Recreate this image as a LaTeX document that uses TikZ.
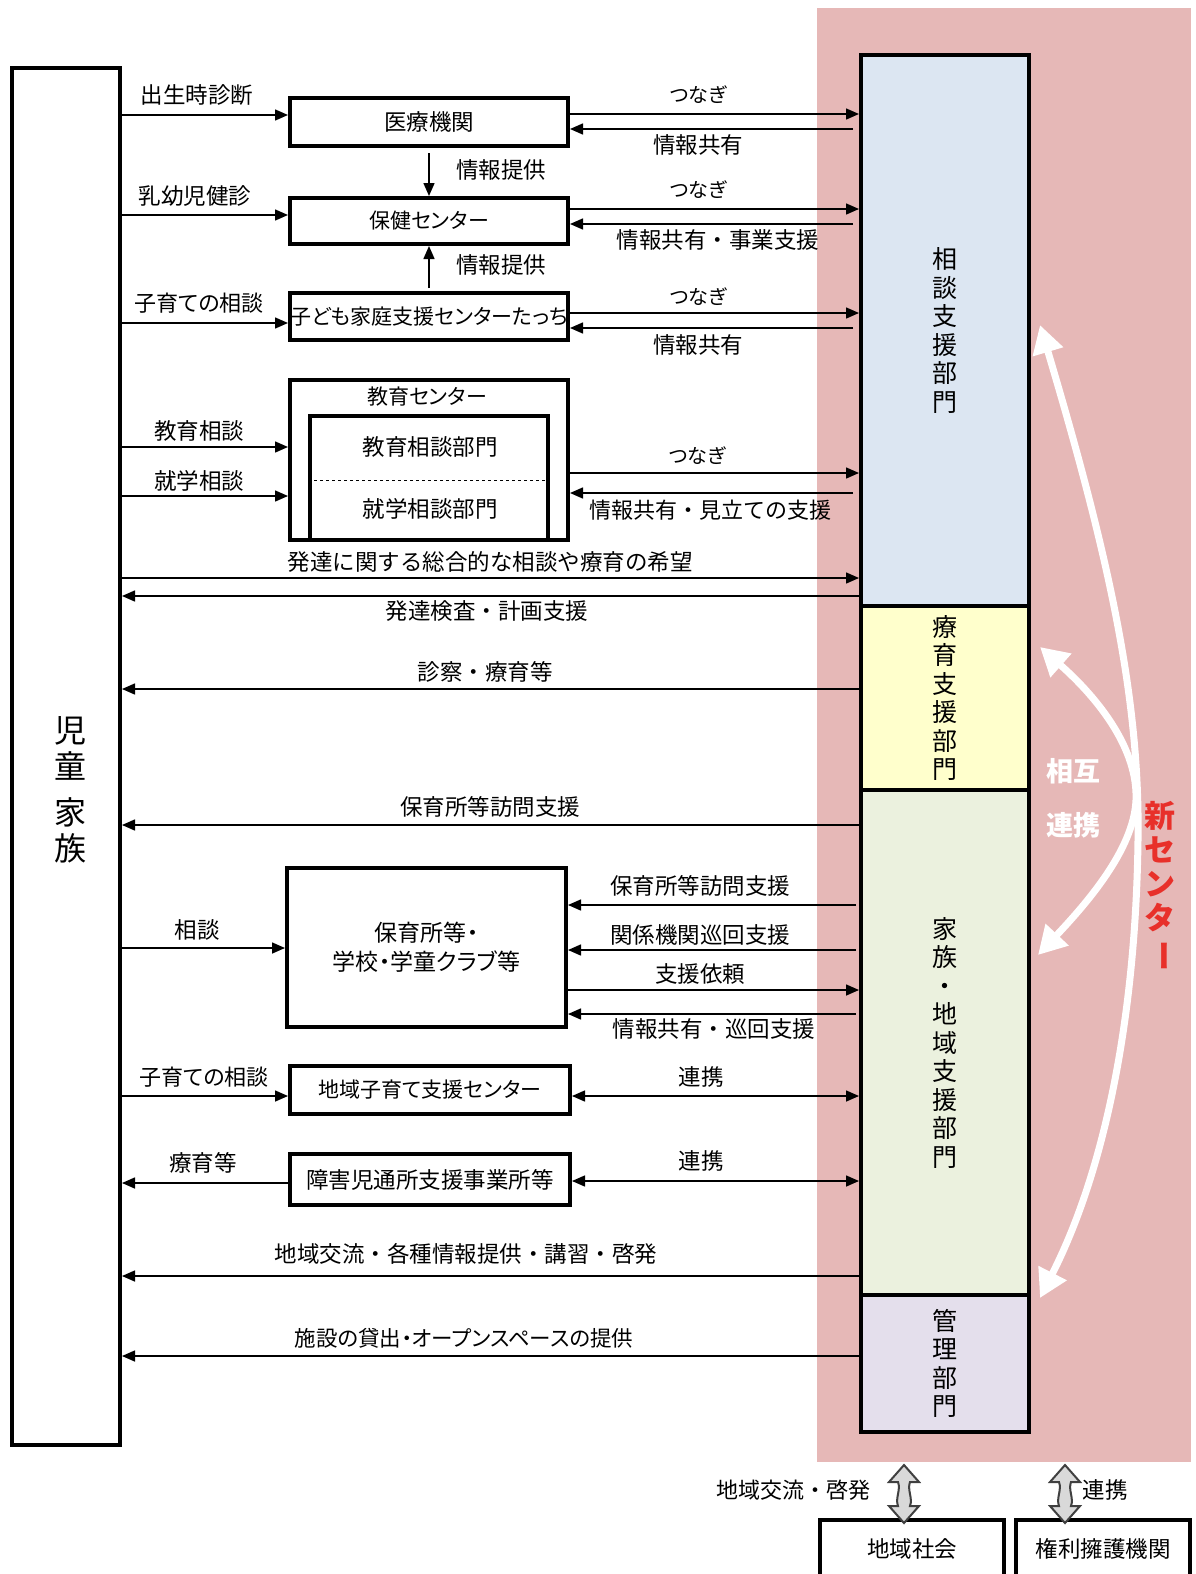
\documentclass[tikz,border=0pt]{standalone}
\usepackage{fontspec}
\setmainfont{Noto Sans CJK JP}
\newfontfamily\pf{Noto Sans CJK JP}[RawFeature=+palt]
\usetikzlibrary{arrows.meta}
\definecolor{pinkbg}{HTML}{E6B8B7}
\definecolor{secblue}{HTML}{DCE6F2}
\definecolor{secyellow}{HTML}{FFFFCC}
\definecolor{secgreen}{HTML}{EBF1DE}
\definecolor{seclav}{HTML}{E4DFEC}
\definecolor{newred}{HTML}{E8302A}
\definecolor{dblgray}{HTML}{D9D9D9}
\begin{document}
\begin{tikzpicture}[x=1pt,y=-1pt,
  font=\fontsize{22.5}{26}\selectfont,
  arr/.style={line width=1.5pt,-{Triangle[length=13pt,width=11pt]}},
  darr/.style={line width=1.5pt,{Triangle[length=13pt,width=11pt]}-{Triangle[length=13pt,width=11pt]}},
  box/.style={draw,line width=4pt,inner sep=0pt,fill=white},
  sect/.style={draw,line width=4pt,inner sep=0pt,minimum width=168pt,align=center,font=\fontsize{25}{28.5}\selectfont},
  lbl/.style={inner sep=0pt},
  kana/.style={font=\pf\fontsize{#1}{#1}\selectfont},
  warr/.style={white,line width=7pt,{Triangle[length=28pt,width=30pt]}-{Triangle[length=28pt,width=30pt]}},
  dblarrow/.style={fill=dblgray,draw=black!75,line width=2pt,line join=miter}
]
\useasboundingbox (0,0) rectangle (1196,1574);
% pink background of the new centre
\fill[pinkbg] (817,8) rectangle (1191,1462);

% right column sections
\node[sect,fill=secblue,minimum height=551pt] (soudan) at (945,330.5) {相\\談\\支\\援\\部\\門};
\node[sect,fill=secyellow,minimum height=184pt] (ryoiku) at (945,698) {療\\育\\支\\援\\部\\門};
\node[sect,fill=secgreen,minimum height=505pt] (kchiiki) at (945,1042.5) {家\\族\\・\\地\\域\\支\\援\\部\\門};
\node[sect,fill=seclav,minimum height=137pt] (kanri) at (945,1363.5) {管\\理\\部\\門};

% left box
\node[box,minimum width=108pt,minimum height=1377pt] (kazoku) at (66,756.5) {};
\node[lbl,align=center,font=\fontsize{32}{36}\selectfont] (kazokutxt) at (70,790) {児\\童\\[10pt]家\\族};

% middle boxes
\node[box,minimum width=278pt,minimum height=48pt] (iryo) at (429,122) {医療機関};
\node[box,minimum width=278pt,minimum height=46pt,kana=21] (hoken) at (429,221) {保健センター};
\node[box,minimum width=278pt,minimum height=47pt,kana=21] (tacchi) at (429,316.5) {子ども家庭支援センターたっち};
\node[box,minimum width=278pt,minimum height=160pt] (kyoiku) at (429,460) {};
\node[draw,line width=4pt,inner sep=0pt,minimum width=238pt,minimum height=124pt] (kyoin) at (429,478) {};
\draw[dashed,line width=0.8pt] (kyoin.west |- 0,480) -- (kyoin.east |- 0,480);
\node[lbl,kana=21] (kyoikut) at (427,397) {教育センター};
\node[lbl] (kyosou) at (430,447) {教育相談部門};
\node[lbl] (shugaku) at (430,509) {就学相談部門};
\node[box,minimum width=279pt,minimum height=159pt,align=center,font=\pf\fontsize{23}{29}\selectfont] (hoiku) at (426.5,947.5) {保育所等・\\学校・学童クラブ等};
\node[box,minimum width=280pt,minimum height=48pt,kana=21] (chiiki) at (430,1090) {地域子育て支援センター};
\node[box,minimum width=280pt,minimum height=51pt] (shogai) at (430,1179.5) {障害児通所支援事業所等};

% bottom boxes
\node[box,minimum width=184pt,minimum height=58pt] (shakai) at (912,1549) {地域社会};
\node[box,minimum width=174pt,minimum height=58pt] (kenri) at (1103,1549) {権利擁護機関};

% left arrows
\draw[arr] (kazoku.east |- 0,115) -- (iryo.west |- 0,115);
\node[lbl] at (197,95) {出生時診断};
\draw[arr] (kazoku.east |- 0,215) -- (hoken.west |- 0,215);
\node[lbl] at (195,196) {乳幼児健診};
\draw[arr] (kazoku.east |- 0,323) -- (tacchi.west |- 0,323);
\node[lbl,kana=22] at (199,303) {子育ての相談};
\draw[arr] (kazoku.east |- 0,447) -- (kyoiku.west |- 0,447);
\node[lbl] at (199,431) {教育相談};
\draw[arr] (kazoku.east |- 0,496) -- (kyoiku.west |- 0,496);
\node[lbl] at (199,481) {就学相談};

% vertical info arrows
\draw[arr,shorten <=5pt] (iryo.south) -- (hoken.north);
\node[lbl] at (501,170) {情報提供};
\draw[arr,shorten <=3pt] (tacchi.north) -- (hoken.south);
\node[lbl] at (501,265) {情報提供};

% right arrows, upper part
\draw[arr] (iryo.east |- 0,114) -- (soudan.west |- 0,114);
\draw[arr,shorten <=6pt] (soudan.west |- 0,129) -- (iryo.east |- 0,129);
\node[lbl,kana=20] at (698,95) {つなぎ};
\node[lbl] at (698,145) {情報共有};
\draw[arr] (hoken.east |- 0,209) -- (soudan.west |- 0,209);
\draw[arr,shorten <=6pt] (soudan.west |- 0,224) -- (hoken.east |- 0,224);
\node[lbl,kana=20] at (698,190) {つなぎ};
\node[lbl] at (718,240) {情報共有・事業支援};
\draw[arr] (tacchi.east |- 0,313) -- (soudan.west |- 0,313);
\draw[arr,shorten <=6pt] (soudan.west |- 0,328) -- (tacchi.east |- 0,328);
\node[lbl,kana=20] at (698,297) {つなぎ};
\node[lbl] at (698,345) {情報共有};
\draw[arr] (kyoiku.east |- 0,473) -- (soudan.west |- 0,473);
\draw[arr,shorten <=6pt] (soudan.west |- 0,493) -- (kyoiku.east |- 0,493);
\node[lbl,kana=20] at (697,456) {つなぎ};
\node[lbl,font=\fontsize{22}{26}\selectfont] at (710,510) {情報共有・見立ての支援};

% long arrows
\draw[arr] (kazoku.east |- 0,578) -- (soudan.west |- 0,578);
\node[lbl] at (490,562) {発達に関する総合的な相談や療育の希望};
\draw[arr] (soudan.west |- 0,596) -- (kazoku.east |- 0,596);
\node[lbl] at (487,611) {発達検査・計画支援};
\draw[arr] (ryoiku.west |- 0,689) -- (kazoku.east |- 0,689);
\node[lbl] at (485,672) {診察・療育等};
\draw[arr] (kchiiki.west |- 0,825) -- (kazoku.east |- 0,825);
\node[lbl] at (490,807) {保育所等訪問支援};

% hoiku box arrows
\draw[arr] (kazoku.east |- 0,948) -- (hoiku.west |- 0,948);
\node[lbl] at (197,930) {相談};
\draw[arr,shorten <=3pt] (kchiiki.west |- 0,905) -- (hoiku.east |- 0,905);
\node[lbl] at (700,886) {保育所等訪問支援};
\draw[arr,shorten <=3pt] (kchiiki.west |- 0,950) -- (hoiku.east |- 0,950);
\node[lbl] at (700,935) {関係機関巡回支援};
\draw[arr] (hoiku.east |- 0,990) -- (kchiiki.west |- 0,990);
\node[lbl] at (700,974) {支援依頼};
\draw[arr,shorten <=3pt] (kchiiki.west |- 0,1014) -- (hoiku.east |- 0,1014);
\node[lbl] at (714,1029) {情報共有・巡回支援};

% lower boxes arrows
\draw[arr] (kazoku.east |- 0,1096) -- (chiiki.west |- 0,1096);
\node[lbl,kana=22] at (204,1077) {子育ての相談};
\draw[darr] (chiiki.east |- 0,1096) -- (kchiiki.west |- 0,1096);
\node[lbl] at (701,1077) {連携};
\draw[arr] (shogai.west |- 0,1183) -- (kazoku.east |- 0,1183);
\node[lbl] at (203,1163) {療育等};
\draw[darr] (shogai.east |- 0,1181) -- (kchiiki.west |- 0,1181);
\node[lbl] at (701,1161) {連携};

\draw[arr] (kchiiki.west |- 0,1276) -- (kazoku.east |- 0,1276);
\node[lbl] at (466,1254) {地域交流・各種情報提供・講習・啓発};
\draw[arr] (kanri.west |- 0,1356) -- (kazoku.east |- 0,1356);
\node[lbl,kana=21.5] at (464,1338) {施設の貸出・オープンスペースの提供};

% white mutual-cooperation arcs
\coordinate (aTop) at (1040,325);
\coordinate (aBot) at (1040,1298);
\coordinate (bTop) at (1040,647);
\coordinate (bBot) at (1038,955);
\draw[warr] (aTop) .. controls (1110,560) and (1140,700) .. (1138,840) .. controls (1136,1000) and (1110,1160) .. (aBot);
\draw[warr] (bTop) .. controls (1100,700) and (1138,750) .. (1136,800) .. controls (1134,850) and (1085,905) .. (bBot);
\node[lbl,white,font=\fontsize{27}{30}\selectfont\bfseries] at (1073,771) {相互};
\node[lbl,white,font=\fontsize{27}{30}\selectfont\bfseries] at (1073,825) {連携};
\node[lbl,newred,align=center,font=\fontsize{31}{34}\selectfont\bfseries] (shin) at (1160,886) {新\\セ\\ン\\タ\\\rotatebox[origin=c]{-90}{ー}};

% bottom double arrows
\draw[dblarrow,shift={(904,1494)}] (0,-29) -- (15,-12) -- (6,-12) .. controls (3,-4) and (9,4) .. (6,12) -- (15,12) -- (0,29) -- (-15,12) -- (-6,12) .. controls (-9,4) and (-3,-4) .. (-6,-12) -- (-15,-12) -- cycle;
\draw[dblarrow,shift={(1065,1494)}] (0,-29) -- (15,-12) -- (6,-12) .. controls (3,-4) and (9,4) .. (6,12) -- (15,12) -- (0,29) -- (-15,12) -- (-6,12) .. controls (-9,4) and (-3,-4) .. (-6,-12) -- (-15,-12) -- cycle;
\node[lbl,font=\fontsize{22}{26}\selectfont] at (793,1490) {地域交流・啓発};
\node[lbl] at (1105,1490) {連携};
\end{tikzpicture}
\end{document}
